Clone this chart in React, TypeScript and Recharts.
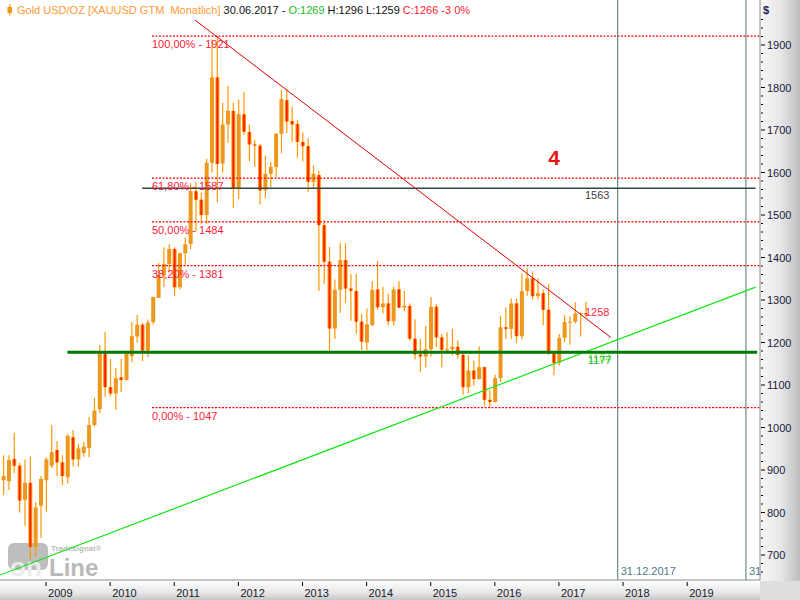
import React from 'react'
import { ComposedChart, Bar, XAxis, YAxis, ReferenceLine, ReferenceDot } from 'recharts'

// monthly candles, May 2008 .. Jun 2017
const months = [
  '05.2008', '06.2008', '07.2008', '08.2008', '09.2008', '10.2008', '11.2008', '12.2008',
  '01.2009', '02.2009', '03.2009', '04.2009', '05.2009', '06.2009', '07.2009', '08.2009', '09.2009', '10.2009', '11.2009', '12.2009',
  '01.2010', '02.2010', '03.2010', '04.2010', '05.2010', '06.2010', '07.2010', '08.2010', '09.2010', '10.2010', '11.2010', '12.2010',
  '01.2011', '02.2011', '03.2011', '04.2011', '05.2011', '06.2011', '07.2011', '08.2011', '09.2011', '10.2011', '11.2011', '12.2011',
  '01.2012', '02.2012', '03.2012', '04.2012', '05.2012', '06.2012', '07.2012', '08.2012', '09.2012', '10.2012', '11.2012', '12.2012',
  '01.2013', '02.2013', '03.2013', '04.2013', '05.2013', '06.2013', '07.2013', '08.2013', '09.2013', '10.2013', '11.2013', '12.2013',
  '01.2014', '02.2014', '03.2014', '04.2014', '05.2014', '06.2014', '07.2014', '08.2014', '09.2014', '10.2014', '11.2014', '12.2014',
  '01.2015', '02.2015', '03.2015', '04.2015', '05.2015', '06.2015', '07.2015', '08.2015', '09.2015', '10.2015', '11.2015', '12.2015',
  '01.2016', '02.2016', '03.2016', '04.2016', '05.2016', '06.2016', '07.2016', '08.2016', '09.2016', '10.2016', '11.2016', '12.2016',
  '01.2017', '02.2017', '03.2017', '04.2017', '05.2017', '06.2017',
]
const open = [
  876, 874, 926, 910, 830, 870, 719, 816,
  876, 910, 947, 918, 883, 977, 925, 940, 952, 1006, 1043, 1175,
  1095, 1080, 1118, 1112, 1168, 1214, 1242, 1181, 1248, 1305, 1358, 1385,
  1420, 1330, 1410, 1432, 1556, 1536, 1500, 1623, 1824, 1621, 1713, 1745,
  1563, 1737, 1695, 1666, 1663, 1558, 1597, 1613, 1691, 1770, 1721, 1714,
  1672, 1662, 1578, 1594, 1476, 1390, 1233, 1324, 1394, 1327, 1321, 1249,
  1200, 1241, 1325, 1283, 1292, 1250, 1325, 1282, 1286, 1209, 1172, 1167,
  1184, 1284, 1212, 1183, 1184, 1190, 1171, 1095, 1134, 1114, 1142, 1065,
  1060, 1116, 1236, 1232, 1292, 1215, 1321, 1351, 1309, 1316, 1277, 1174,
  1152, 1211, 1248, 1249, 1268, 1269,
]
const high = [
  935, 935, 987, 917, 925, 931, 825, 886,
  930, 1006, 968, 935, 985, 994, 962, 966, 1025, 1070, 1195, 1225,
  1161, 1140, 1161, 1180, 1248, 1265, 1246, 1254, 1308, 1387, 1424, 1431,
  1424, 1411, 1447, 1575, 1577, 1553, 1632, 1913, 1921, 1764, 1804, 1764,
  1771, 1790, 1713, 1677, 1667, 1640, 1625, 1693, 1794, 1796, 1755, 1723,
  1694, 1680, 1617, 1604, 1488, 1425, 1348, 1434, 1434, 1361, 1361, 1267,
  1280, 1345, 1392, 1331, 1315, 1332, 1345, 1322, 1292, 1255, 1208, 1239,
  1307, 1290, 1220, 1224, 1232, 1205, 1175, 1170, 1157, 1191, 1143, 1088,
  1124, 1263, 1283, 1304, 1303, 1362, 1375, 1367, 1352, 1325, 1337, 1180,
  1220, 1264, 1262, 1295, 1271, 1296,
]
const low = [
  841, 853, 893, 800, 768, 690, 697, 740,
  801, 905, 886, 865, 868, 908, 908, 931, 930, 1002, 1034, 1073,
  1073, 1042, 1083, 1110, 1153, 1200, 1156, 1166, 1242, 1305, 1330, 1365,
  1309, 1325, 1381, 1420, 1462, 1478, 1478, 1600, 1530, 1600, 1670, 1516,
  1537, 1688, 1627, 1613, 1525, 1540, 1565, 1589, 1645, 1693, 1672, 1635,
  1626, 1555, 1563, 1321, 1338, 1180, 1208, 1270, 1293, 1251, 1221, 1182,
  1182, 1238, 1277, 1268, 1240, 1240, 1281, 1274, 1205, 1160, 1131, 1142,
  1167, 1190, 1142, 1175, 1169, 1162, 1077, 1080, 1098, 1113, 1052, 1046,
  1058, 1107, 1208, 1208, 1199, 1207, 1310, 1301, 1302, 1241, 1171, 1123,
  1146, 1200, 1195, 1245, 1214, 1259,
]
const close = [
  886, 924, 910, 828, 870, 719, 812, 879,
  925, 942, 918, 886, 980, 925, 951, 955, 1006, 1040, 1175, 1095,
  1080, 1116, 1112, 1175, 1215, 1242, 1181, 1247, 1307, 1358, 1385, 1420,
  1330, 1410, 1431, 1556, 1536, 1500, 1623, 1824, 1620, 1713, 1745, 1563,
  1737, 1696, 1666, 1664, 1558, 1597, 1613, 1691, 1773, 1720, 1713, 1672,
  1662, 1578, 1597, 1476, 1390, 1233, 1324, 1394, 1327, 1322, 1249, 1202,
  1243, 1324, 1283, 1292, 1250, 1325, 1282, 1286, 1209, 1172, 1167, 1184,
  1284, 1212, 1183, 1184, 1190, 1171, 1095, 1134, 1114, 1142, 1065, 1060,
  1116, 1236, 1232, 1292, 1215, 1321, 1351, 1309, 1316, 1277, 1174, 1152,
  1211, 1248, 1249, 1268, 1269, 1266,
]

const yearTicks = [8, 20, 32, 44, 56, 68, 80, 92, 104, 116, 128]
const yearLabels = ['2009', '2010', '2011', '2012', '2013', '2014', '2015', '2016', '2017', '2018', '2019']

const priceTicks = Array.from({ length: 66 }, (_, k) => 660 + k * 20)

const fibLevels = [1921, 1587, 1484, 1381, 1047]
const fibLabels = ['100,00% - 1921', '61,80% - 1587', '50,00% - 1484', '38,20% - 1381', '0,00% - 1047']
const fibStart = 27.83

const supportLevel = 1177
const resistanceLevel = 1563
const downTrend = [{ x: 35.88, y: 1958.8 }, { x: 113.68, y: 1212.2 }]
const upTrend = [{ x: -0.616, y: 652.9 }, { x: 140.82, y: 1330.4 }]
const markerIdx = [115, 139]
const markerLabels = ['31.12.2017', '31']

const data = months.map((m, i) => ({ i, m, o: open[i], h: high[i], l: low[i], c: close[i] }))

const X_DOMAIN = [-0.616, 141.63]
const Y_DOMAIN = [641.2, 2005.9]
const FONT = '"Liberation Sans", Arial, sans-serif'

function Candle(props: any) {
  const { x, y, width, height, payload } = props
  const { o, h, l, c } = payload
  const cx = x + width / 2
  const k = h === l ? 0 : height / (h - l)
  const yO = y + (h - o) * k
  const yC = y + (h - c) * k
  const top = Math.min(yO, yC)
  const bh = Math.max(1, Math.abs(yO - yC))
  const up = c >= o
  return (
    <g>
      <line x1={cx} x2={cx} y1={y} y2={y + height} stroke="#FF9900" strokeWidth={1.2} />
      <rect x={cx - 2} y={top} width={4} height={bh} fill={up ? '#EC981F' : '#FF9900'} />
      {!up && <rect x={cx - 0.9} y={top} width={1.8} height={bh} fill="#FF1A00" />}
    </g>
  )
}

function YTick(props: any) {
  const { y, payload } = props
  const v = payload.value
  const major = v % 100 === 0
  return (
    <g>
      <line x1={761} x2={major ? 765 : 763} y1={y} y2={y} stroke="#000" />
      {major && (
        <text x={767} y={y + 4} fontSize={11} fontFamily={FONT} fill="#1a1a3a">{v}</text>
      )}
    </g>
  )
}

function XTick(props: any) {
  const { x, payload } = props
  const k = yearTicks.indexOf(payload.value)
  return (
    <g>
      <line x1={x} x2={x} y1={582} y2={586} stroke="#000" />
      <text x={x + 2} y={597} fontSize={11} fontFamily={FONT} fill="#1a1a2a">{yearLabels[k]}</text>
    </g>
  )
}

const textShape = (text: string, dx: number, dy: number, fill: string, extra: any = {}) => (p: any) => (
  <text x={p.cx + dx} y={p.cy + dy} fill={fill} fontSize={11} fontFamily={FONT} {...extra}>{text}</text>
)

export default function App() {
  return (
    <div style={{ position: 'fixed', left: 0, top: 0, width: 800, height: 600, background: '#fff', overflow: 'hidden' }}>
      <div style={{ position: 'absolute', left: 760, top: 0, width: 40, height: 581, background: 'linear-gradient(to right, #f7f7f7, #e8e8e8 50%, #bdbdbd)' }} />
      <div style={{ position: 'absolute', left: 0, top: 581, width: 760, height: 19, background: 'linear-gradient(to bottom, #fdfdfd, #e8e8e8 60%, #c6c6c6)' }} />
      <div style={{ position: 'absolute', left: 760, top: 581, width: 40, height: 19, background: '#dedede' }} />
      <svg width={800} height={600} style={{ position: 'absolute', left: 0, top: 0 }}>
        <rect x={8} y={543} width={40} height={27} rx={6} fill="#bebebe" />
        <text x={10} y={576} fontSize={26} fontWeight="bold" fontFamily={FONT} fill="#ececec">on</text>
        <text x={49} y={576} fontSize={24} fontWeight="bold" fontFamily={FONT} fill="#b9b9b9">Line</text>
        <text x={51} y={551} fontSize={8} fontWeight="bold" fontFamily={FONT} fill="#bcbcbc">Tradesignal®</text>
      </svg>
      <div style={{ position: 'absolute', left: 0, top: 0 }}>
        <ComposedChart width={800} height={600} data={data} margin={{ top: 0, right: 0, bottom: 0, left: 0 }}>
          <XAxis
            dataKey="i"
            type="number"
            domain={X_DOMAIN}
            allowDataOverflow
            ticks={yearTicks}
            tick={<XTick />}
            tickLine={false}
            axisLine={{ stroke: '#8c8c8c' }}
            height={20}
            interval={0}
          />
          <YAxis
            orientation="right"
            type="number"
            domain={Y_DOMAIN}
            allowDataOverflow
            ticks={priceTicks}
            tick={<YTick />}
            tickLine={false}
            axisLine={{ stroke: '#8c8c8c' }}
            width={40}
            interval={0}
          />
          {fibLevels.map((v, k) => (
            <ReferenceLine
              key={'fib' + k}
              segment={[{ x: fibStart, y: v }, { x: X_DOMAIN[1], y: v }]}
              stroke="#FF0000"
              strokeWidth={1.2}
              strokeDasharray="2 1.5"
              ifOverflow="visible"
            />
          ))}
          {markerIdx.map((m, k) => (
            <ReferenceLine key={'mk' + k} x={m} stroke="#4d7777" strokeWidth={1} />
          ))}
          <ReferenceLine
            segment={[{ x: 26, y: resistanceLevel }, { x: 140.8, y: resistanceLevel }]}
            stroke="#2f4b45"
            strokeWidth={1.5}
          />
          <ReferenceLine segment={downTrend} stroke="#E00000" strokeWidth={1} />
          <ReferenceLine segment={upTrend} stroke="#11E611" strokeWidth={1.2} />
          <Bar
            dataKey={(d: any) => [d.l, d.h]}
            barSize={4}
            shape={<Candle />}
            isAnimationActive={false}
          />
          <ReferenceLine
            segment={[{ x: 12, y: supportLevel }, { x: 141.1, y: supportLevel }]}
            stroke="#007A00"
            strokeWidth={3}
          />
          {fibLevels.map((v, k) => (
            <ReferenceDot key={'fl' + k} x={fibStart} y={v} shape={textShape(fibLabels[k], 0, 12, '#ff1a3a')} />
          ))}
          <ReferenceDot x={108.87} y={resistanceLevel} shape={textShape('1563', 0, 11, '#404040')} />
          <ReferenceDot x={108.87} y={1258} shape={textShape('1258', 0, -2, '#ff1f4a')} />
          <ReferenceDot x={109.4} y={1164} shape={textShape('1164', 0, 4, '#88ff44')} />
          <ReferenceDot x={109.4} y={supportLevel} shape={textShape('1177', 0, 12, '#22aa44')} />
          <ReferenceDot x={102} y={1618} shape={textShape('4', 0, 0, '#ee1111', { fontSize: 21, fontWeight: 'bold' })} />
          {markerIdx.map((m, k) => (
            <ReferenceDot key={'ml' + k} x={m} y={653} shape={textShape(markerLabels[k], 3, 0, '#507888')} />
          ))}
        </ComposedChart>
      </div>
      <svg width={800} height={600} style={{ position: 'absolute', left: 0, top: 0, pointerEvents: 'none' }}>
        <line x1={9.8} x2={9.8} y1={4} y2={15.5} stroke="#FF9900" strokeWidth={1.2} />
        <rect x={7.5} y={7} width={4.6} height={6} fill="#EC981F" />
        <text x={17} y={14} fontSize={11} fontFamily={FONT} xmlSpace="preserve">
          <tspan fill="#FF9933">Gold USD/OZ [XAUUSD GTM  Monatlich]</tspan>
          <tspan fill="#111"> 30.06.2017 - </tspan>
          <tspan fill="#22bb22">O:1269</tspan>
          <tspan fill="#111"> H:1296 L:1259 </tspan>
          <tspan fill="#ff2030">C:1266 -3 0%</tspan>
        </text>
        <text x={763} y={14} fontSize={11} fontWeight="bold" fontFamily={FONT} fill="#202050">$</text>
      </svg>
    </div>
  )
}
